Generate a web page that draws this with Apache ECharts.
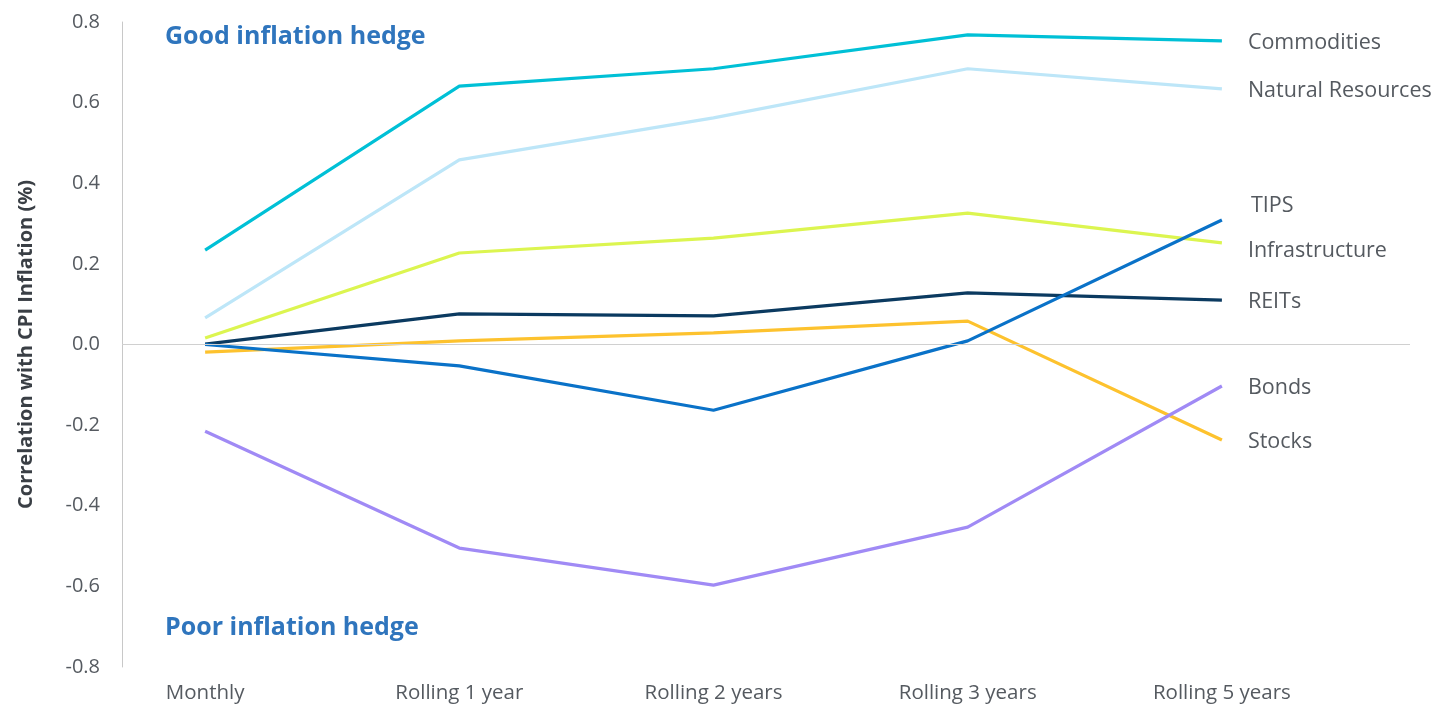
<!DOCTYPE html>
<html>
<head>
<meta charset="utf-8">
<script src="https://cdn.jsdelivr.net/npm/echarts@6/dist/echarts.min.js"></script>
<style>
  html, body { margin: 0; padding: 0; background: #fff; }
  #chart { width: 1435px; height: 706px; }
</style>
</head>
<body>
<div id="chart"></div>
<script>
var categories = ['Monthly', 'Rolling 1 year', 'Rolling 2 years', 'Rolling 3 years', 'Rolling 5 years'];
var yTicks = [-0.8, -0.6, -0.4, -0.2, 0.0, 0.2, 0.4, 0.6, 0.8];

var commodities      = [0.234, 0.641, 0.684, 0.768, 0.753];
var naturalResources = [0.066, 0.458, 0.562, 0.684, 0.634];
var infrastructure   = [0.016, 0.227, 0.264, 0.326, 0.252];
var reits            = [0.001, 0.076, 0.071, 0.128, 0.110];
var tips             = [0.000, -0.053, -0.163, 0.009, 0.309];
var stocks           = [-0.019, 0.009, 0.029, 0.058, -0.237];
var bonds            = [-0.215, -0.505, -0.597, -0.453, -0.103];

var font = 'Open Sans';
var textColor = '#555a60';

// [index, value] pairs so the x axis can run past the first/last category
function pairs(arr) {
	return arr.map(function (v, i) { return [i, v]; });
}

function line(name, data, color, offset) {
	return {
		name: name,
		type: 'line',
		data: pairs(data),
		symbol: 'none',
		silent: true,
		lineStyle: { color: color, width: 3.2 },
		endLabel: {
			show: true,
			formatter: '{a}',
			color: textColor,
			fontFamily: font,
			fontSize: 21.5,
			distance: 26,
			offset: offset || [0, 2]
		}
	};
}

var series = [
	line('Natural Resources', naturalResources, '#bde6f8'),
	line('Commodities', commodities, '#00c0d6'),
	line('Infrastructure', infrastructure, '#dcf550', [0, 8]),
	line('REITs', reits, '#0b3a60'),
	line('Stocks', stocks, '#fdc22e'),
	line('TIPS', tips, '#0a72c8', [3, -14]),
	line('Bonds', bonds, '#a08af5')
];

// zero line across the whole plot
series[0].markLine = {
	silent: true,
	symbol: 'none',
	label: { show: false },
	lineStyle: { color: '#d0d0d0', width: 1, type: 'solid' },
	data: [{ yAxis: 0 }]
};

var option = {
	animation: false,
	backgroundColor: '#fff',
	grid: { left: 122, right: 25, top: 22, bottom: 39 },
	xAxis: {
		type: 'value',
		min: -0.327,
		max: 4.74,
		splitLine: { show: false },
		axisLine: { show: false },
		axisTick: { show: false },
		axisLabel: {
			customValues: [0, 1, 2, 3, 4],
			formatter: function (v) { return categories[Math.round(v)]; },
			color: textColor,
			fontFamily: font,
			fontSize: 20.5,
			margin: 16
		}
	},
	yAxis: {
		type: 'value',
		min: yTicks[0],
		max: yTicks[yTicks.length - 1],
		interval: 0.2,
		name: 'Correlation with CPI Inflation (%)',
		nameLocation: 'middle',
		nameGap: 86,
		nameTextStyle: { color: '#3a3f45', fontFamily: font, fontSize: 20, fontWeight: 'bold' },
		splitLine: { show: false },
		axisTick: { show: false },
		axisLine: { show: true, onZero: false, lineStyle: { color: '#c8c8c8', width: 1 } },
		axisLabel: {
			formatter: function (v) { return v.toFixed(1); },
			color: textColor,
			fontFamily: font,
			fontSize: 20,
			margin: 22
		}
	},
	graphic: [
		{ type: 'text', left: 165, top: 24, style: { text: 'Good inflation hedge', fill: '#2f75bd', font: 'bold 25px "Open Sans"' } },
		{ type: 'text', left: 165, top: 615, style: { text: 'Poor inflation hedge', fill: '#2f75bd', font: 'bold 25px "Open Sans"' } }
	],
	series: series
};

var myChart = echarts.init(document.getElementById('chart'));
myChart.setOption(option);
</script>
</body>
</html>
